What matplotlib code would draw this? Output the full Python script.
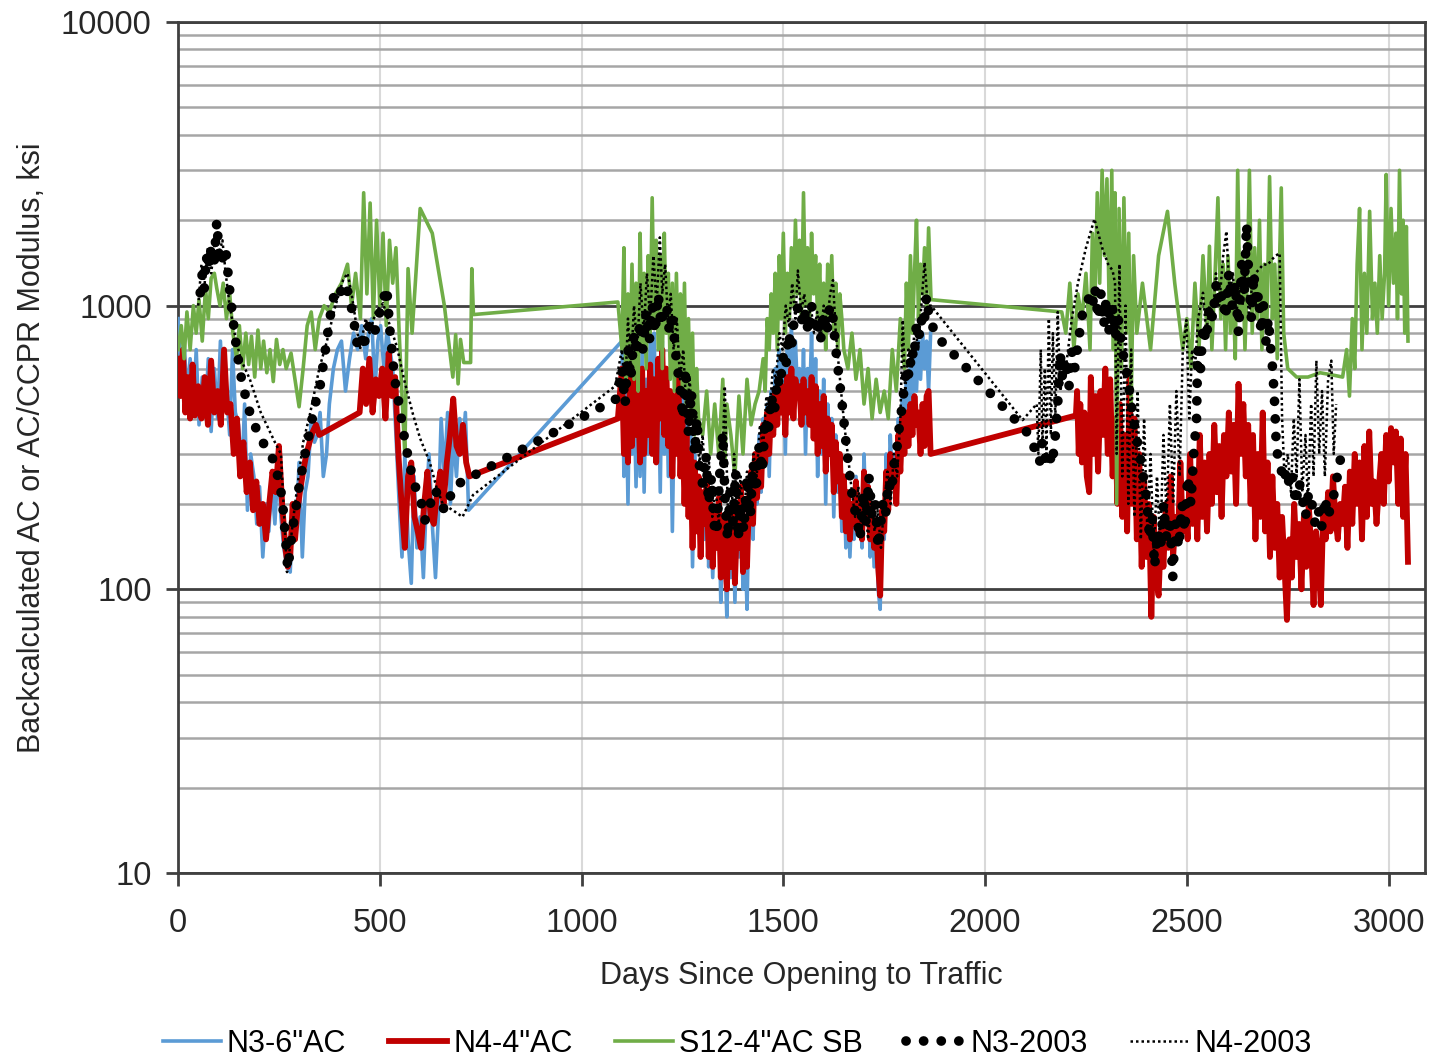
import matplotlib
matplotlib.use("Agg")
import matplotlib.pyplot as plt
from matplotlib.ticker import FixedLocator, NullFormatter

plt.rcParams['font.family'] = ['Liberation Sans', 'DejaVu Sans']

# ---- data (days since opening, modulus in ksi) ----
n3_days = [0, 8, 15, 22, 30, 38, 45, 52, 60, 68, 75, 82, 90, 98, 105, 112, 120, 128, 135, 142,
           150, 158, 165, 172, 180, 188, 195, 202, 210, 218, 225, 232, 240, 248, 255, 262, 270, 278, 285, 292,
           300, 308, 315, 322, 330, 338, 345, 352, 360, 368, 375, 385, 395, 405, 415, 425, 435, 445, 455, 465,
           472, 480, 488, 495, 502, 510, 518, 525, 532, 540, 548, 555, 562, 570, 578, 585, 592, 600, 608, 615,
           622, 630, 638, 645, 652, 660, 668, 675, 682, 690, 698, 705, 712, 720,
           1100, 1105, 1110, 1115, 1120, 1125, 1130, 1135, 1140, 1145, 1150, 1155, 1160, 1165, 1170, 1175, 1180,
           1185, 1190, 1195, 1200, 1205, 1210, 1215, 1220, 1225, 1230, 1235, 1240, 1245, 1250, 1255, 1260, 1265,
           1270, 1275, 1280, 1285, 1290, 1295, 1300, 1305, 1310, 1315, 1320, 1325, 1330, 1335, 1340, 1345, 1350,
           1355, 1360, 1365, 1370, 1375, 1380, 1385, 1390, 1395, 1400, 1405, 1410, 1415, 1420, 1425, 1430, 1435,
           1440, 1445, 1450, 1455, 1460, 1465, 1470, 1475, 1480, 1485, 1490, 1495, 1500, 1505, 1510, 1515, 1520,
           1525, 1530, 1535, 1540, 1545, 1550, 1555, 1560, 1565, 1570, 1575, 1580, 1585, 1590, 1595, 1600, 1605,
           1610, 1615, 1620, 1625, 1630, 1635, 1640, 1645, 1650, 1655, 1660, 1665, 1670, 1675, 1680, 1685, 1690,
           1695, 1700, 1705, 1710, 1715, 1720, 1725, 1730, 1735, 1740, 1745, 1750, 1755, 1760, 1765, 1770, 1775,
           1780, 1785, 1790, 1795, 1800, 1805, 1810, 1815, 1820, 1825, 1830, 1835, 1840, 1845, 1850, 1855, 1860,
           1865]
n3_vals = [900, 550, 750, 480, 650, 420, 700, 380, 560, 420, 650, 360, 600, 400, 750, 450, 500, 350, 700, 420,
           380, 250, 450, 190, 300, 250, 170, 230, 130, 200, 160, 240, 170, 280, 180, 140, 120, 115, 200, 150,
           280, 130, 220, 250, 400, 330, 350, 420, 250, 300, 450, 600, 700, 750, 500, 650, 800, 700, 850, 650,
           800, 900, 500, 750, 850, 600, 820, 700, 600, 350, 200, 130, 300, 150, 105, 250, 140, 180, 110, 200,
           300, 170, 110, 180, 400, 250, 420, 200, 350, 250, 400, 300, 420, 190,
           750, 250, 550, 200, 650, 300, 500, 230, 600, 250, 700, 220, 550, 300, 750, 350, 800,
           280, 600, 220, 750, 300, 600, 250, 500, 160, 450, 350, 600, 300, 500, 250, 400, 180,
           350, 120, 300, 200, 250, 130, 220, 150, 250, 120, 200, 110, 180, 150, 220, 90, 180,
           130, 80, 170, 110, 200, 90, 170, 130, 220, 100, 160, 85, 200, 250, 150, 300, 200,
           350, 220, 400, 300, 450, 250, 500, 350, 600, 400, 700, 450, 650, 300, 700, 500, 850,
           450, 750, 500, 600, 400, 700, 300, 600, 450, 800, 350, 650, 250, 500, 300, 550, 200,
           450, 300, 400, 180, 350, 220, 300, 160, 250, 140, 220, 130, 200, 150, 250, 160, 200,
           140, 300, 170, 250, 130, 200, 120, 180, 100, 85, 200, 150, 300, 200, 350, 250, 300,
           200, 400, 300, 500, 350, 550, 400, 650, 450, 700, 500, 750, 550, 800, 600, 750, 500,
           800]

n4_days = [0, 6, 12, 18, 24, 30, 36, 42, 50, 58, 66, 74, 82, 90, 98, 106, 114, 122, 130, 138,
           146, 154, 162, 170, 178, 186, 194, 202, 210, 218, 226, 234, 242, 250, 258, 266, 272, 278, 284, 290,
           296, 302, 310, 318, 326, 334, 342, 350, 450, 458, 466, 474, 482, 490, 498, 506, 514, 522, 530, 538,
           546, 554, 562, 570, 578, 586, 594, 602, 610, 618, 626, 634, 642, 650, 658, 666, 674, 682, 690, 698,
           706, 714, 722, 1090,
           1100, 1105, 1110, 1115, 1120, 1125, 1130, 1135, 1140, 1145, 1150, 1155, 1160, 1165, 1170, 1175, 1180,
           1185, 1190, 1195, 1200, 1205, 1210, 1215, 1220, 1225, 1230, 1235, 1240, 1245, 1250, 1255, 1260, 1265,
           1270, 1275, 1280, 1285, 1290, 1295, 1300, 1305, 1310, 1315, 1320, 1325, 1330, 1335, 1340, 1345, 1350,
           1355, 1360, 1365, 1370, 1375, 1380, 1385, 1390, 1395, 1400, 1405, 1410, 1415, 1420, 1425, 1430, 1435,
           1440, 1445, 1450, 1455, 1460, 1465, 1470, 1475, 1480, 1485, 1490, 1495, 1500, 1505, 1510, 1515, 1520,
           1525, 1530, 1535, 1540, 1545, 1550, 1555, 1560, 1565, 1570, 1575, 1580, 1585, 1590, 1595, 1600, 1605,
           1610, 1615, 1620, 1625, 1630, 1635, 1640, 1645, 1650, 1655, 1660, 1665, 1670, 1675, 1680, 1685, 1690,
           1695, 1700, 1705, 1710, 1715, 1720, 1725, 1730, 1735, 1740, 1745, 1750, 1755, 1760, 1765, 1770, 1775,
           1780, 1785, 1790, 1795, 1800, 1805, 1810, 1815, 1820, 1825, 1830, 1835, 1840, 1845, 1850, 1855, 1860,
           1865, 2225, 2228, 2232, 2236, 2240, 2246, 2252, 2258, 2262, 2268, 2274, 2280, 2286, 2292, 2298, 2304,
           2310, 2316, 2322, 2328, 2334, 2340, 2346, 2352, 2358, 2364, 2370, 2376, 2382, 2388, 2394, 2400, 2406,
           2412, 2418, 2424, 2430, 2436, 2442, 2448, 2454, 2460, 2466, 2472, 2478, 2484, 2490, 2496, 2502, 2508,
           2514, 2520, 2526, 2532, 2538, 2544, 2550, 2556, 2562, 2568, 2574, 2580, 2586, 2592, 2598, 2604, 2610,
           2616, 2622, 2628, 2634, 2640, 2646, 2652, 2658, 2664, 2670, 2676, 2682, 2688, 2694, 2700, 2706, 2712,
           2718, 2724, 2730, 2736, 2742, 2748, 2754, 2760, 2766, 2772, 2778, 2784, 2790, 2796, 2802, 2808, 2814,
           2820, 2826, 2832, 2838, 2844, 2850, 2856, 2862, 2868, 2874, 2880, 2886, 2892, 2898, 2904, 2910, 2916,
           2922, 2928, 2934, 2940, 2946, 2952, 2958, 2964, 2970, 2976, 2982, 2988, 2994, 3000, 3006, 3012, 3018,
           3024, 3030, 3036, 3042, 3048]
n4_vals = [650, 480, 700, 420, 560, 400, 620, 410, 520, 400, 560, 380, 640, 420, 500, 380, 700, 420, 450, 300,
           400, 250, 330, 220, 280, 190, 240, 170, 200, 150, 200, 260, 220, 320, 200, 140, 120, 130, 200, 150,
           190, 220, 260, 300, 330, 360, 380, 350, 420, 600, 450, 650, 420, 550, 480, 600, 400, 680, 480, 560,
           300, 200, 140, 250, 280, 180, 160, 140, 200, 260, 180, 170, 220, 260, 200, 280, 350, 470, 320, 300,
           380, 280, 250, 400,
           600, 300, 450, 280, 550, 320, 650, 350, 480, 280, 600, 300, 500, 350, 620, 300, 550,
           280, 650, 400, 700, 350, 600, 320, 500, 250, 480, 300, 550, 250, 400, 200, 350, 180,
           300, 140, 280, 160, 250, 130, 220, 170, 240, 130, 200, 120, 190, 140, 210, 110, 180,
           140, 100, 180, 120, 200, 105, 170, 140, 230, 115, 170, 120, 210, 260, 170, 300, 210,
           320, 230, 380, 280, 420, 300, 450, 350, 500, 380, 550, 420, 520, 350, 560, 420, 600,
           400, 550, 480, 520, 380, 550, 420, 500, 380, 560, 340, 520, 300, 450, 320, 480, 260,
           400, 300, 380, 220, 330, 240, 300, 180, 250, 160, 220, 150, 200, 170, 240, 160, 200,
           150, 260, 180, 230, 150, 200, 140, 170, 120, 95, 190, 160, 260, 190, 300, 230, 280,
           200, 350, 260, 400, 300, 420, 320, 450, 350, 480, 380, 420, 300, 450, 320, 480, 500,
           300, 410, 500, 300, 450, 280, 420, 250, 220, 560, 300, 480, 260, 500, 350, 600, 300,
           550, 250, 400, 200, 450, 180, 350, 160, 550, 200, 400, 150, 300, 120, 250, 130, 200,
           80, 180, 110, 95, 160, 120, 200, 140, 250, 130, 180, 150, 280, 160, 200, 150, 300,
           170, 250, 150, 350, 180, 280, 160, 300, 200, 380, 220, 320, 180, 350, 250, 420, 260,
           380, 200, 530, 300, 450, 250, 380, 200, 350, 150, 300, 180, 420, 160, 280, 130, 250,
           140, 200, 110, 180, 120, 78, 150, 110, 200, 130, 170, 100, 180, 120, 200, 140, 88,
           160, 130, 88, 190, 150, 220, 160, 250, 180, 150, 200, 170, 230, 140, 260, 170, 300,
           200, 280, 150, 320, 180, 360, 200, 240, 170, 230, 300, 200, 350, 240, 370, 280, 360,
           200, 340, 180, 300, 125]

s12_days = [0, 8, 15, 22, 30, 38, 45, 52, 60, 68, 75, 82, 90, 96, 104, 112, 120, 128, 136, 145,
            152, 160, 168, 175, 182, 190, 198, 205, 212, 220, 228, 236, 244, 252, 260, 268, 280, 300, 310, 320,
            330, 340, 350, 362, 375, 390, 405, 420, 430, 440, 452, 460, 468, 476, 484, 492, 500, 508, 516, 524,
            532, 540, 548, 556, 562, 570, 580, 600, 630, 660, 681, 688, 694, 700, 708, 725, 728, 732, 1090,
            1100, 1105, 1110, 1115, 1120, 1125, 1130, 1135, 1140, 1145, 1150, 1155, 1160, 1165, 1170, 1175, 1180,
            1185, 1190, 1195, 1200, 1205, 1210, 1215, 1220, 1225, 1230, 1235, 1240, 1245, 1250, 1255, 1260, 1265,
            1270, 1275, 1280, 1285, 1290, 1300, 1310, 1320, 1330, 1340, 1350, 1355, 1360, 1370, 1380, 1390, 1400,
            1410, 1420, 1430, 1440, 1450, 1455, 1460, 1465, 1470, 1475, 1480, 1485, 1490, 1495, 1500, 1505, 1510,
            1515, 1520, 1525, 1530, 1535, 1540, 1545, 1550, 1555, 1560, 1565, 1570, 1575, 1580, 1585, 1590, 1595,
            1600, 1605, 1610, 1615, 1620, 1625, 1630, 1635, 1640, 1645, 1650, 1660, 1670, 1680, 1690, 1700, 1710,
            1720, 1730, 1740, 1750, 1760, 1770, 1780, 1790, 1800, 1805, 1810, 1815, 1820, 1825, 1830, 1835, 1840,
            1845, 1850, 1855, 1860, 1866, 2190, 2200, 2210, 2220, 2230, 2240, 2250, 2260, 2266, 2272, 2278, 2284,
            2290, 2296, 2302, 2308, 2314, 2318, 2322, 2326, 2332, 2338, 2344, 2350, 2356, 2362, 2368, 2376, 2390,
            2410, 2430, 2452, 2470, 2490, 2500, 2510, 2520, 2530, 2540, 2550, 2556, 2562, 2570, 2577, 2584, 2590,
            2596, 2602, 2608, 2614, 2620, 2626, 2632, 2638, 2644, 2650, 2655, 2662, 2668, 2674, 2680, 2686, 2692,
            2698, 2705, 2712, 2718, 2724, 2734, 2740, 2750, 2772, 2800, 2830, 2860, 2886, 2896, 2903, 2910, 2916,
            2922, 2928, 2934, 2940, 2946, 2953, 2960, 2966, 2972, 2978, 2984, 2990, 2994, 3000, 3006, 3012, 3018,
            3022, 3027, 3032, 3036, 3040, 3044, 3048]
s12_vals = [700, 850, 650, 950, 700, 1000, 800, 1050, 750, 1150, 900, 1250, 1300, 1150, 1000, 1200, 900, 1100, 800, 650,
            850, 600, 800, 620, 780, 560, 820, 600, 750, 580, 700, 540, 760, 620, 700, 600, 680, 440, 600, 850,
            950, 700, 900, 1000, 950, 1100, 1200, 1400, 1000, 1300, 900, 2500, 1100, 2300, 900, 2000, 1000, 1800, 850, 1700,
            1200, 1600, 800, 450, 300, 1350, 800, 2200, 1800, 1000, 560, 790, 530, 760, 630, 630, 1350, 930, 1030,
            700, 1600, 500, 1100, 600, 1400, 550, 1200, 500, 1800, 700, 1300, 600, 1500, 800, 2400, 900,
            1700, 700, 1500, 600, 1800, 800, 1300, 550, 1200, 500, 1300, 600, 1100, 500, 1200, 450, 900,
            400, 800, 350, 600, 400, 350, 500, 300, 450, 300, 550, 280, 450, 350, 250, 480, 300,
            550, 380, 450, 500, 650, 500, 900, 700, 1100, 800, 1300, 700, 1500, 900, 1800, 800, 1300,
            900, 1600, 1000, 2000, 1100, 1700, 900, 2500, 1000, 1600, 900, 1800, 1100, 1500, 900, 1400, 800,
            1200, 700, 1400, 900, 1500, 800, 1200, 700, 1100, 900, 700, 600, 800, 550, 700, 450, 600,
            400, 550, 420, 500, 400, 700, 500, 900, 600, 1200, 700, 1500, 800, 1300, 2000, 900, 1400,
            1100, 1600, 1000, 1880, 1050, 950, 800, 1200, 700, 1100, 900, 1300, 700, 1800, 1000, 2500, 1200,
            3000, 1500, 2800, 900, 3000, 700, 2500, 200, 2200, 600, 2400, 800, 1800, 450, 1500, 800, 1200,
            700, 1500, 2150, 1200, 700, 900, 600, 1200, 700, 1500, 800, 1620, 700, 1300, 2400, 900, 1400,
            700, 1500, 800, 1200, 650, 3000, 900, 1500, 700, 1300, 3000, 800, 1600, 900, 2000, 700, 1400,
            800, 2850, 900, 1400, 650, 2600, 800, 600, 560, 560, 580, 570, 560, 700, 480, 900, 600,
            1400, 2200, 700, 1300, 800, 2150, 900, 1200, 800, 1500, 900, 1300, 2900, 1000, 2200, 1200, 1800,
            900, 3000, 1100, 2000, 800, 1900, 750]

n3_2003_days = [55, 60, 65, 70, 75, 80, 85, 90, 96, 102, 108, 114, 120, 126, 130, 141, 154, 173, 191, 215,
                240, 258, 265, 272, 277, 283, 290, 302, 315, 327, 340, 352, 364, 376, 389, 400, 414, 426, 435, 443,
                452, 460, 468, 475, 485, 495, 505, 517, 525, 537, 550, 562, 575, 588, 600, 612, 625, 637, 660, 686,
                1087, 1100, 1108, 1115, 1122, 1130, 1137, 1145, 1152, 1160, 1168, 1175, 1182, 1190, 1197, 1205, 1211,
                1218, 1225, 1232, 1238, 1245, 1251, 1258, 1265, 1272, 1280, 1286, 1293, 1300, 1308, 1315, 1322, 1328,
                1335, 1342, 1350, 1356, 1362, 1368, 1375, 1382, 1388, 1395, 1402, 1410, 1418, 1425, 1432, 1440, 1448,
                1455, 1462, 1470, 1478, 1485, 1492, 1499, 1506, 1513, 1520, 1527, 1533, 1541, 1548, 1555, 1562, 1570,
                1578, 1585, 1592, 1600, 1608, 1615, 1622, 1630, 1640, 1648, 1657, 1665, 1673, 1682, 1690, 1698, 1705,
                1712, 1720, 1728, 1735, 1739, 1746, 1753, 1760, 1768, 1775, 1781, 1788, 1795, 1800, 1806, 1812, 1818,
                1824, 1830, 1838, 1845, 1850, 1855, 1862, 1880, 2110, 2120, 2128, 2135, 2142, 2150, 2158, 2165, 2172,
                2180, 2186, 2192, 2200, 2208, 2215, 2222, 2234, 2242, 2250, 2259, 2266, 2272, 2280, 2287, 2294, 2300,
                2308, 2315, 2322, 2330, 2340, 2351, 2358, 2365, 2374, 2383, 2392, 2400, 2408, 2414, 2420, 2428, 2435,
                2442, 2450, 2458, 2465, 2472, 2480, 2488, 2495, 2502, 2510, 2517, 2524, 2527, 2534, 2540, 2548, 2556,
                2564, 2573, 2580, 2588, 2596, 2604, 2612, 2620, 2628, 2636, 2642, 2648, 2654, 2660, 2666, 2672, 2678,
                2684, 2690, 2696, 2702, 2708, 2713, 2718, 2722, 2730, 2740, 2747, 2755, 2762, 2770, 2778, 2786, 2794,
                2802, 2810, 2818, 2826, 2834, 2842, 2850, 2858, 2866, 2874, 2883]
n3_2003_vals = [1110, 1300, 1150, 1500, 1350, 1600, 1400, 1450, 1980, 1500, 1400, 1600, 1500, 1200, 1070, 780, 580, 440, 375, 320,
                280, 210, 160, 118, 135, 160, 185, 240, 300, 365, 450, 520, 680, 900, 1140, 1100, 1200, 1050, 900, 740,
                800, 700, 850, 840, 780, 900, 1000, 1160, 820, 550, 430, 335, 270, 230, 210, 175, 200, 225, 190, 232,
                470, 600, 450, 700, 550, 800, 670, 880, 700, 950, 750, 1000, 800, 1100, 850, 1000, 990,
                800, 950, 700, 600, 500, 400, 600, 350, 500, 300, 400, 260, 235, 300, 200, 250, 170,
                156, 250, 355, 200, 150, 220, 170, 260, 150, 200, 160, 250, 180, 280, 220, 320, 260,
                400, 350, 480, 420, 560, 520, 660, 600, 800, 700, 900, 970, 1000, 850, 950, 800, 1000,
                850, 900, 750, 950, 800, 1000, 940, 700, 530, 420, 310, 250, 200, 180, 150, 220, 170,
                250, 180, 200, 140, 157, 200, 180, 240, 220, 280, 310, 380, 450, 520, 610, 560, 700,
                650, 870, 780, 950, 900, 1080, 900, 780, 350, 320, 300, 280, 330, 290, 310, 275, 320,
                450, 680, 550, 650, 520, 690, 600, 800, 950, 1000, 1080, 1000, 1160, 900, 1100, 850, 1050,
                800, 1000, 760, 900, 700, 580, 500, 420, 350, 300, 250, 210, 150, 180, 120, 160, 140,
                200, 150, 180, 110, 170, 140, 200, 160, 250, 200, 300, 400, 700, 600, 850, 750, 1000,
                900, 1200, 1000, 1100, 900, 1300, 1000, 1200, 800, 1400, 1100, 1940, 1200, 900, 1300, 1000, 1100,
                800, 1000, 750, 900, 700, 590, 440, 310, 280, 240, 265, 230, 250, 200, 240, 210, 180,
                220, 200, 170, 190, 165, 210, 180, 200, 220, 256, 300]

n4_2003_days = [50, 58, 66, 74, 82, 92, 100, 110, 118, 128, 140, 155, 178, 205, 240, 255, 270, 290, 310, 327,
                350, 369, 390, 409, 420, 430, 445, 451, 465, 475, 490, 508, 525, 542, 560, 582, 600, 624, 640, 656,
                681, 705, 731, 1083, 1100, 1108, 1115, 1122, 1130, 1138, 1146, 1154, 1162, 1170, 1178, 1186, 1194,
                1200, 1207, 1214, 1221, 1228, 1236, 1244, 1252, 1260, 1268, 1276, 1284, 1292, 1300, 1308, 1316, 1324,
                1332, 1340, 1348, 1355, 1362, 1370, 1378, 1386, 1394, 1402, 1410, 1418, 1426, 1434, 1442, 1450, 1458,
                1466, 1474, 1482, 1490, 1498, 1506, 1514, 1522, 1530, 1536, 1544, 1552, 1560, 1568, 1576, 1584, 1592,
                1600, 1608, 1616, 1623, 1630, 1638, 1646, 1654, 1662, 1670, 1678, 1686, 1694, 1702, 1710, 1718, 1726,
                1734, 1742, 1750, 1758, 1766, 1774, 1782, 1790, 1796, 1802, 1810, 1818, 1826, 1834, 1842, 1850, 1858,
                1866, 2093, 2128, 2132, 2138, 2142, 2148, 2152, 2158, 2163, 2168, 2174, 2180, 2186, 2200, 2215, 2230,
                2250, 2271, 2290, 2305, 2316, 2322, 2326, 2333, 2340, 2348, 2355, 2362, 2370, 2378, 2386, 2394, 2402,
                2410, 2418, 2426, 2434, 2442, 2450, 2458, 2466, 2474, 2482, 2490, 2499, 2506, 2513, 2520, 2528, 2540,
                2548, 2556, 2564, 2572, 2580, 2590, 2598, 2606, 2614, 2622, 2630, 2638, 2646, 2654, 2662, 2670, 2680,
                2690, 2700, 2710, 2720, 2730, 2736, 2742, 2750, 2758, 2765, 2772, 2779, 2786, 2794, 2800, 2808, 2814,
                2821, 2828, 2835, 2842, 2850, 2858, 2864, 2870]
n4_2003_vals = [1000, 1400, 1200, 1600, 1300, 1700, 1500, 1700, 1300, 1000, 800, 650, 550, 420, 330, 300, 115, 200, 330, 415,
                600, 750, 1000, 1230, 1300, 1100, 800, 700, 900, 800, 950, 1020, 850, 720, 550, 415, 340, 280, 230, 200,
                190, 180, 215, 520, 700, 500, 900, 600, 1000, 700, 1200, 800, 1300, 900, 1500, 1000, 1740,
                1100, 1400, 900, 1100, 700, 900, 550, 700, 420, 550, 350, 420, 280, 350, 220, 280, 180,
                230, 170, 250, 520, 200, 160, 300, 180, 250, 170, 260, 200, 300, 250, 380, 320, 480,
                420, 600, 550, 800, 700, 1000, 850, 1200, 900, 1330, 950, 1100, 850, 1000, 800, 950, 750,
                1000, 850, 1100, 1230, 800, 600, 450, 350, 280, 220, 180, 230, 160, 210, 150, 220, 160,
                190, 140, 200, 260, 200, 300, 250, 400, 890, 500, 700, 600, 850, 700, 1000, 1420, 1000,
                1000, 395, 450, 300, 700, 320, 600, 300, 900, 350, 800, 400, 950, 500, 600, 900, 1200,
                1600, 2020, 1600, 1400, 1330, 1200, 300, 1400, 250, 1000, 200, 700, 180, 500, 150, 400, 160,
                300, 130, 250, 140, 350, 180, 450, 200, 500, 250, 700, 890, 400, 700, 600, 900, 1110,
                800, 1000, 900, 1300, 1000, 1500, 1830, 1100, 1300, 900, 1200, 1000, 1400, 900, 1200, 1300, 1350,
                1400, 1390, 1450, 1500, 1530, 400, 250, 300, 220, 400, 250, 550, 220, 350, 200, 450, 250,
                640, 300, 500, 250, 550, 640, 300, 450]

x_ticks = [0, 500, 1000, 1500, 2000, 2500, 3000]
y_ticks = [10, 100, 1000, 10000]
y_minor = [m * d for d in [10, 100, 1000] for m in range(2, 10)]

fig = plt.figure(figsize=(14.37, 10.61), dpi=100)
ax = fig.add_axes([0.1239, 0.1772, 0.8677, 0.8021])

ax.plot(n3_days, n3_vals, color='#5B9BD5', lw=2.6, label='N3-6"AC', zorder=3)
ax.plot(n4_days, n4_vals, color='#C00000', lw=4.2, label='N4-4"AC', zorder=4)
ax.plot(s12_days, s12_vals, color='#70AD47', lw=2.6, label='S12-4"AC SB', zorder=5)
ax.plot(n3_2003_days, n3_2003_vals, color='black', lw=7, linestyle=(0, (0.01, 1.8)),
        dash_capstyle='round', label='N3-2003', zorder=6)
ax.plot(n4_2003_days, n4_2003_vals, color='black', lw=1.8, linestyle=(0, (1, 1.2)),
        label='N4-2003', zorder=7)

ax.set_yscale('log')
ax.set_ylim(10, 10000)
ax.set_xlim(0, 3090)

ax.yaxis.set_major_locator(FixedLocator(y_ticks))
ax.yaxis.set_minor_locator(FixedLocator(y_minor))
ax.yaxis.set_minor_formatter(NullFormatter())
ax.set_yticklabels([str(t) for t in y_ticks])
ax.set_xticks(x_ticks)
ax.set_xticklabels([str(t) for t in x_ticks])

ax.grid(True, which='major', axis='y', color='#404040', lw=2, zorder=1)
ax.grid(True, which='minor', axis='y', color='#A6A6A6', lw=1.8, zorder=1)
ax.grid(True, which='major', axis='x', color='#D9D9D9', lw=1.5, zorder=1)
ax.set_axisbelow(True)

for s in ax.spines.values():
    s.set_color('#404040')
    s.set_linewidth(2)

ax.tick_params(axis='both', which='major', labelsize=23.5, color='#404040', width=2,
               length=9, direction='out', labelcolor='#262626')
ax.tick_params(axis='x', pad=16)
ax.tick_params(axis='y', pad=10)
ax.tick_params(axis='y', which='minor', length=0)

ax.set_xlabel('Days Since Opening to Traffic', fontsize=22, color='#262626', labelpad=16)
ax.set_ylabel('Backcalculated AC or AC/CCPR Modulus, ksi', fontsize=22, color='#262626', labelpad=10)

fig.legend(loc='lower center', bbox_to_anchor=(0.513, -0.024), ncol=5, frameon=False,
           fontsize=22, handlelength=1.9, handletextpad=0.2, columnspacing=1.4)

fig.savefig('out.png', dpi=100)
